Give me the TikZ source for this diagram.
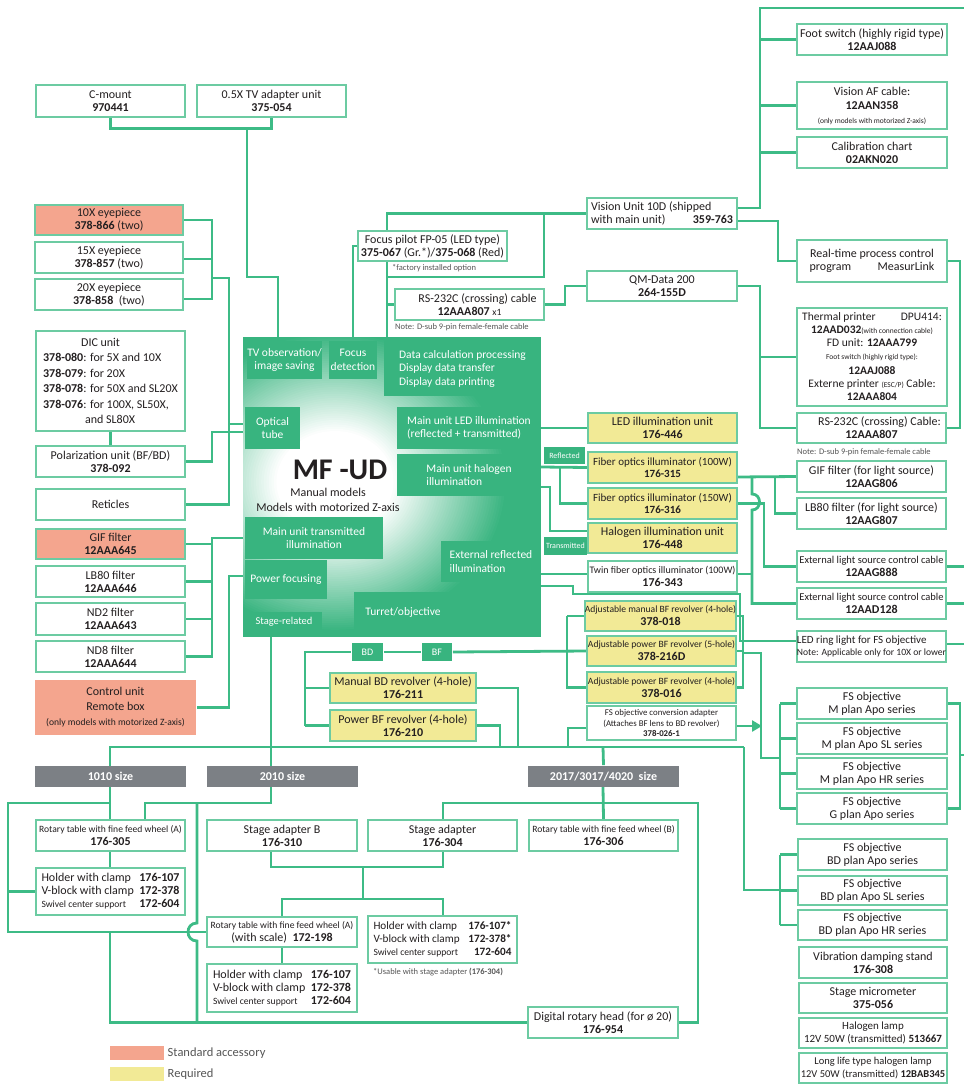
\documentclass[tikz,border=0pt]{standalone}
\usepackage{fontspec}
\setmainfont{Carlito}
\usetikzlibrary{arrows.meta}
\pgfdeclarelayer{bg}
\pgfsetlayers{bg,main}
\definecolor{lg}{HTML}{3DBB86}
\definecolor{bgc}{HTML}{6CCBA2}
\definecolor{blk}{HTML}{38B47F}
\definecolor{pk}{HTML}{F4A58E}
\definecolor{yl}{HTML}{F2EA96}
\definecolor{grc}{HTML}{7C8085}
\definecolor{tx}{HTML}{231F20}
\definecolor{nt}{HTML}{555555}
\newcommand\sm{\fontsize{9.6}{11}\selectfont}
\newcommand\tn{\fontsize{7.5}{9}\selectfont}
\tikzset{
 box/.style={draw=bgc, line width=1.6pt, fill=white, inner sep=0pt, align=center, text=tx, font=\fontsize{12}{13}\selectfont},
 lng/.style={font=\fontsize{11}{12.5}\selectfont},
 pinkbox/.style={fill=pk},
 yelbox/.style={fill=yl},
 sub/.style={fill=blk, draw=none, text=white, font=\fontsize{11.5}{13.5}\selectfont},
 lab/.style={fill=blk, draw=none, text=white, font=\fontsize{8}{9}\selectfont},
 grl/.style={fill=grc, draw=none, text=white, font=\bfseries\fontsize{12}{13}\selectfont},
 conn/.style={draw=lg, line width=2.8pt},
 note/.style={text=nt, inner sep=0pt, anchor=west, font=\fontsize{8.5}{10}\selectfont},
}
\newcommand\bx[7][]{\node[box,#1,minimum width={(#5-#3)*1pt},minimum height={(#6-#4)*1pt}] (#2) at ({(#3+#5)/2},{(#4+#6)/2}) {#7};}
\newcommand\hold[3]{\parbox{138pt}{Holder with clamp\hfill\textbf{#1}\\V-block with clamp\hfill\textbf{#2}\\{\sm Swivel center support}\hfill\textbf{#3}}}
\begin{document}
\begin{tikzpicture}[x=1pt,y=-1pt]
\useasboundingbox (0,0) rectangle (964,1086);
% ---------- main block
\begin{scope}
\clip (243,337) rectangle (541,637);
\fill[blk] (243,337) rectangle (541,637);
\foreach \k in {0,...,45}{
 \pgfmathsetmacro\rr{150-2.2*\k}
 \pgfmathsetmacro\rx{1.15*\rr}
 \pgfmathsetmacro\cc{100-100*\k/45}
 \fill[blk!\cc!white] (335,482) ellipse[x radius=\rx, y radius=\rr];
}
\end{scope}
\node[minimum width=298pt, minimum height=300pt, inner sep=0pt] (block) at (392,487) {};
\bx[sub]{tvo}{247}{341}{322}{379}{TV observation/\\image saving}
\bx[sub]{fdet}{329}{341}{377}{379}{Focus\\detection}
\bx[sub,align=left]{dcalc}{384}{341}{541}{396}{Data calculation processing\\Display data transfer\\Display data printing}
\bx[sub]{otube}{245}{407}{300}{449}{Optical\\tube}
\bx[sub,align=left]{mled}{397}{407}{541}{449}{Main unit LED illumination\\(reflected + transmitted)}
\bx[sub,align=left]{mhal}{397}{454}{541}{496}{Main unit halogen\\illumination}
\bx[sub]{mtr}{245}{517}{383}{559}{Main unit transmitted\\illumination}
\bx[sub]{pfoc}{245}{560}{327}{599}{Power focusing}
\bx[sub,align=left]{extr}{441}{541}{541}{582}{External reflected\\illumination}
\bx[sub]{turret}{354}{592}{452}{632}{Turret/objective}
\bx[sub,font=\fontsize{10.5}{12}\selectfont]{stg}{246}{612}{322}{631}{Stage-related}
\node[text=tx, font=\bfseries\fontsize{30}{30}\selectfont, inner sep=0pt] (mfud) at (340,470) {MF -UD};
\node[text=tx, font=\fontsize{12}{15}\selectfont, align=center, inner sep=0pt, anchor=north] (mfsub) at (328,488) {Manual models\\Models with motorized Z-axis};
% ---------- top / left boxes
\bx{cmount}{36}{85}{185}{117}{C-mount\\\textbf{970441}}
\bx{tvad}{197}{85}{346}{117}{0.5X TV adapter unit\\\textbf{375-054}}
\bx[pinkbox]{e10}{35}{205}{183}{235}{10X eyepiece\\\textbf{378-866} (two)}
\bx{e15}{35}{242}{183}{273}{15X eyepiece\\\textbf{378-857} (two)}
\bx{e20}{35}{279}{183}{310}{20X eyepiece\\\textbf{378-858}\ \ (two)}
\bx[align=left,font=\fontsize{12}{15.5}\selectfont]{dic}{36}{331}{185}{431}{\hspace*{38pt}DIC unit\\\textbf{378-080}: for 5X and 10X\\\textbf{378-079}: for 20X\\\textbf{378-078}: for 50X and SL20X\\\textbf{378-076}: for 100X, SL50X,\\\hspace*{42pt}and SL80X}
\bx{polar}{36}{446}{185}{477}{Polarization unit (BF/BD)\\\textbf{378-092}}
\bx{retic}{36}{489}{185}{520}{Reticles}
\bx[pinkbox]{gif}{36}{529}{185}{559}{GIF filter\\\textbf{12AAA645}}
\bx{lb80}{36}{566}{185}{597}{LB80 filter\\\textbf{12AAA646}}
\bx{nd2}{36}{603}{185}{635}{ND2 filter\\\textbf{12AAA643}}
\bx{nd8}{36}{641}{185}{672}{ND8 filter\\\textbf{12AAA644}}
\bx[pinkbox,draw=none,font=\fontsize{12}{15}\selectfont]{ctrl}{35}{680}{196}{735}{Control unit\\Remote box\\{\sm (only models with motorized Z-axis)}}
% ---------- upper middle
\bx{fpilot}{358}{231}{507}{261}{Focus pilot FP-05 (LED type)\\\textbf{375-067} (Gr.*)/\textbf{375-068} (Red)}
\node[note] (fpnote) at (392,268) {*factory installed option};
\bx{rs1}{395}{289}{544}{320}{\hspace*{16pt}RS-232C (crossing) cable\\\textbf{12AAA807} {\sm x1}}
\node[note] (rs1note) at (395,327) {Note: D-sub 9-pin female-female cable};
\bx{vu}{587}{198}{737}{229}{\parbox{142pt}{Vision Unit 10D (shipped\\with main unit)\hfill\textbf{359-763}}}
\bx{qm}{587}{271}{737}{301}{QM-Data 200\\\textbf{264-155D}}
% ---------- top right
\bx{foot}{797}{24}{947}{55}{Foot switch (highly rigid type)\\\textbf{12AAJ088}}
\bx[font=\fontsize{12}{14}\selectfont]{vaf}{797}{82}{947}{129}{Vision AF cable:\\\textbf{12AAN358}\\{\tn (only models with motorized Z-axis)}}
\bx{calib}{797}{137}{947}{168}{Calibration chart\\\textbf{02AKN020}}
\bx{rt}{797}{240}{947}{282}{Real-time process control\\program\hspace{2.2em}MeasurLink}
\bx[font=\fontsize{11.5}{13}\selectfont]{therm}{797}{308}{947}{406}{Thermal printer\hspace{2.2em}DPU414:\\\textbf{12AAD032}{\tn(with connection cable)}\\FD unit: \textbf{12AAA799}\\{\tn Foot switch (highly rigid type):}\\[2pt]\textbf{12AAJ088}\\Externe printer {\tn(ESC/P)} Cable:\\\textbf{12AAA804}}
\bx{rs2}{797}{413}{946}{443}{\hspace*{16pt}RS-232C (crossing) Cable:\\\textbf{12AAA807}}
\node[note] (rs2note) at (797,452) {Note: D-sub 9-pin female-female cable};
% ---------- light sources
\bx[yelbox]{ledu}{588}{413}{737}{443}{LED illumination unit\\\textbf{176-446}}
\bx[yelbox,lng]{fo100}{588}{452}{737}{483}{Fiber optics illuminator (100W)\\\textbf{176-315}}
\bx[yelbox,lng]{fo150}{588}{488}{737}{519}{Fiber optics illuminator (150W)\\\textbf{176-316}}
\bx[yelbox]{halu}{588}{523}{737}{553}{Halogen illumination unit\\\textbf{176-448}}
\bx[font=\fontsize{10}{12.5}\selectfont]{twin}{588}{561}{737}{592}{Twin fiber optics illuminator (100W)\\{\fontsize{12}{12}\selectfont\textbf{176-343}}}
\bx[lab]{refl}{544}{447}{585}{464}{Reflected}
\bx[lab]{trans}{544}{537}{587}{555}{Transmitted}
\bx{gifl}{797}{461}{946}{492}{GIF filter (for light source)\\\textbf{12AAG806}}
\bx{lb80l}{797}{498}{946}{529}{LB80 filter (for light source)\\\textbf{12AAG807}}
\bx[font=\fontsize{10.5}{12.5}\selectfont]{ext1}{797}{551}{946}{582}{External light source control cable\\{\fontsize{12}{12}\selectfont\textbf{12AAG888}}}
\bx[font=\fontsize{10.5}{12.5}\selectfont]{ext2}{797}{588}{946}{619}{External light source control cable\\{\fontsize{12}{12}\selectfont\textbf{12AAD128}}}
\bx[align=left,lng]{ledr}{797}{631}{946}{662}{LED ring light for FS objective\\{\sm Note: Applicable only for 10X or lower}}
% ---------- revolvers
\bx[yelbox]{amr}{586}{601}{735}{631}{{\sm Adjustable manual BF revolver (4-hole)}\\\textbf{378-018}}
\bx[yelbox]{apr5}{587}{636}{736}{666}{{\sm Adjustable power BF revolver (5-hole)}\\\textbf{378-216D}}
\bx[yelbox]{apr4}{587}{672}{736}{703}{{\sm Adjustable power BF revolver (4-hole)}\\\textbf{378-016}}
\bx[font=\fontsize{8.8}{10.5}\selectfont]{fsad}{587}{706}{736}{740}{FS objective conversion adapter\\(Attaches BF lens to BD revolver)\\\textbf{378-026-1}}
\bx[lab,font=\fontsize{10}{11}\selectfont]{bdl}{352}{643}{383}{661}{BD}
\bx[lab,font=\fontsize{10}{11}\selectfont]{bfl}{422}{643}{452}{661}{BF}
\bx[yelbox]{mbd}{330}{673}{476}{703}{Manual BD revolver (4-hole)\\\textbf{176-211}}
\bx[yelbox]{pbf}{330}{710}{476}{741}{Power BF revolver (4-hole)\\\textbf{176-210}}
% ---------- objectives and misc
\bx{fs1}{797}{688}{947}{719}{FS objective\\M plan Apo series}
\bx{fs2}{797}{723}{947}{754}{FS objective\\M plan Apo SL series}
\bx{fs3}{797}{758}{947}{789}{FS objective\\M plan Apo HR series}
\bx{fs4}{797}{793}{947}{824}{FS objective\\G plan Apo series}
\bx{bd1}{798}{839}{947}{870}{FS objective\\BD plan Apo series}
\bx{bd2}{798}{876}{947}{905}{FS objective\\BD plan Apo SL series}
\bx{bd3}{798}{910}{947}{940}{FS objective\\BD plan Apo HR series}
\bx{vib}{799}{947}{947}{978}{Vibration damping stand\\\textbf{176-308}}
\bx{smic}{799}{983}{947}{1013}{Stage micrometer\\\textbf{375-056}}
\bx[lng]{hlamp}{799}{1018}{947}{1048}{Halogen lamp\\12V 50W (transmitted) \textbf{513667}}
\bx[font=\fontsize{10.5}{12.5}\selectfont]{llamp}{799}{1053}{947}{1083}{Long life type halogen lamp\\12V 50W (transmitted) \textbf{12BAB345}}
% ---------- stage
\bx[grl]{s1010}{35}{766}{186}{787}{1010 size}
\bx[grl]{s2010}{207}{766}{358}{787}{2010 size}
\bx[grl]{s2017}{528}{766}{679}{787}{2017/3017/4020\ \ size}
\bx{rota}{36}{820}{185}{851}{{\sm Rotary table with fine feed wheel (A)}\\\textbf{176-305}}
\bx{hold1}{36}{868}{185}{915}{\hold{176-107}{172-378}{172-604}}
\bx{sab}{207}{820}{357}{851}{Stage adapter B\\\textbf{176-310}}
\bx{sa}{368}{820}{517}{851}{Stage adapter\\\textbf{176-304}}
\bx{rotb}{529}{820}{678}{851}{{\sm Rotary table with fine feed wheel (B)}\\\textbf{176-306}}
\bx{rots}{207}{917}{357}{947}{{\sm Rotary table with fine feed wheel (A)}\\(with scale)\ \ \textbf{172-198}}
\bx{hold2}{207}{964}{357}{1012}{\hold{176-107}{172-378}{172-604}}
\bx[font=\fontsize{11.2}{13}\selectfont]{hold3}{368}{916}{517}{963}{\hold{176-107*}{172-378*}{172-604}}
\node[note] (h3note) at (373,972) {*Usable with stage adapter \textbf{(176-304)}};
\bx{drh}{528}{1007}{678}{1038}{Digital rotary head (for ø 20)\\\textbf{176-954}}
% ---------- legend
\node[fill=pk, minimum width=54pt, minimum height=14pt, inner sep=0pt] (leg1) at (137,1053) {};
\node[anchor=west, text=nt, font=\fontsize{12.5}{13}\selectfont] (leg1t) at (leg1.east) {Standard accessory};
\node[fill=yl, minimum width=54pt, minimum height=14pt, inner sep=0pt] (leg2) at (137,1074) {};
\node[anchor=west, text=nt, font=\fontsize{12.5}{13}\selectfont] (leg2t) at (leg2.east) {Required};
% ---------- connectors
\begin{pgfonlayer}{bg}
\draw[conn] (cmount.south) -- ++(0,11) -| (tvad.south);
\draw[conn] (247,128) -- (247,277) -- (278,277) -- (278,337);
\draw[conn] (353,337) |- (fpilot.west);
\draw[conn] (387,337) |- (vu.west);
\draw[conn] (544,213.5) |- (387,277);
\draw[conn] (387,304.5) -- (rs1.west);
\draw[conn] (rs1.east) -- (565,304.5) |- (qm.west);
\draw[conn] (vu.east |- 0,208) -| (760,8) -- (964,8);
\draw[conn] (760,39.5) -- (foot.west);
\draw[conn] (760,105.5) -- (vaf.west);
\draw[conn] (760,152.5) -- (calib.west);
\draw[conn] (vu.east |- 0,221) -| (778,261) -- (rt.west);
\draw[conn] (rt.east) -| (960,428) -- (rs2.east);
\draw[conn] (qm.east) -| (760,428) -- (rs2.west);
\draw[conn] (760,357) -- (therm.west);
% left
\draw[conn] (e10.east) -| (212,299) -- (e20.east |- 0,299);
\draw[conn] (e15.east |- 0,259) -- (212,259);
\draw[conn] (212,278) -| (229,504.5) -- (retic.east);
\draw[conn] (229,424) -- (243,424);
\draw[conn] (dic.south) -- (polar.north);
\draw[conn] (polar.east) -| (212,432) -- (243,432);
\draw[conn] (243,538) -| (212,656.5) -- (nd8.east);
\draw[conn] (gif.east) -- (212,544);
\draw[conn] (lb80.east) -- (212,581.5);
\draw[conn] (nd2.east) -- (212,619);
\draw[conn] (ctrl.east) -| (229,576) -- (243,576);
% right of block
\draw[conn] (541,428) -- (ledu.west);
\draw[conn] (541,467) -- (fo100.west);
\draw[conn] (560,467) |- (fo150.west);
\draw[conn] (541,487) -| (550,531) -- (halu.west |- 0,531);
\draw[conn] (541,574) -- (twin.west |- 0,574);
\draw[conn] (541,586) -- (573,586) -- (573,594) -- (740,594) |- (ledr.west |- 0,641);
\draw[conn] (fo100.east |- 0,477) -- (gifl.west);
\draw[conn] (775,477) |- (lb80l.west);
\draw[conn] (752,477) -- (752,494) .. controls (762,494) and (762,510) .. (752,510) |- (ext2.west);
\draw[conn] (twin.east |- 0,574) -- (752,574);
\draw[conn] (fo150.east) -| (764,566.5) -- (ext1.west);
\draw[conn] (ext1.east) -- (964,566.5);
\draw[conn] (ext2.east) -- (964,603.5);
\draw[conn] (ledr.east |- 0,644) -- (964,644);
% revolvers
\draw[conn] (305,726) |- (bdl.west);
\draw[conn] (305,688) -- (mbd.west);
\draw[conn] (305,725.5) -- (pbf.west);
\draw[conn] (bdl.east) -- (bfl.west);
\draw[conn] (bfl.east) -- (apr5.west);
\draw[conn] (567,616) |- (apr4.west);
\draw[conn] (567,616) -- (amr.west);
\draw[conn] (amr.east) -| (743,687.5) -- (apr4.east);
\draw[conn] (apr5.east) -- (743,651);
\draw[conn] (743,653) -| (761,758) -- (780,758);
\draw[conn] (780,703.5) -- (780,808.5);
\draw[conn] (780,703.5) -- (fs1.west);
\draw[conn] (780,738.5) -- (fs2.west);
\draw[conn] (780,773.5) -- (fs3.west);
\draw[conn] (780,808.5) -- (fs4.west);
\draw[conn, -{Triangle[length=10pt,width=11pt]}] (fsad.east |- 0,726) -- (762,726);
\draw[conn] (fs1.east) -| (960,808.5) -- (fs4.east);
\draw[conn] (960,755) -- (964,755);
\draw[conn] (fsad.west |- 0,728) -| (568,747);
\draw[conn] (476,688) -- (518,688) -- (518,747);
\draw[conn] (pbf.east) -- (500,725.5) -- (500,747);
\draw[conn] (744,747) -- (744,890) -- (780,890);
\draw[conn] (780,854.5) -- (780,925);
\draw[conn] (780,854.5) -- (bd1.west);
\draw[conn] (780,890.5) -- (bd2.west);
\draw[conn] (780,925) -- (bd3.west);
% stage
\draw[conn] (271,637) -- (271,747);
\draw[conn] (110,766) -- (110,747) -- (744,747);
\draw[conn] (271,747) -- (271,766);
\draw[conn] (603,747) -- (s2017.north);
\draw[conn] (110,787) -- (rota.north -| 110,0);
\draw[conn] (110,803) -| (8,932) -- (rots.west);
\draw[conn] (8,891.5) -- (hold1.west);
\draw[conn] (rota.south -| 110,0) -- (hold1.north -| 110,0);
\draw[conn] (110,932) -- (110,1022.5) -- (drh.west);
\draw[conn] (145,820) -- (145,803) -- (271,803) -- (271,787);
\draw[conn] (197,803) -- (197,923) .. controls (185,923) and (185,941) .. (197,941) -- (197,1022.5);
\draw[conn] (271,851) -- (271,867) -| (443,851);
\draw[conn] (363,867) -- (363,899);
\draw[conn] (282,917) |- (443,899) -- (443,916);
\draw[conn] (rots.south -| 282,0) -- (hold2.north -| 282,0);
\draw[conn] (603,787) -- (rotb.north);
\draw[conn] (443,820) |- (698,803) |- (drh.east);
\end{pgfonlayer}
\end{tikzpicture}
\end{document}
